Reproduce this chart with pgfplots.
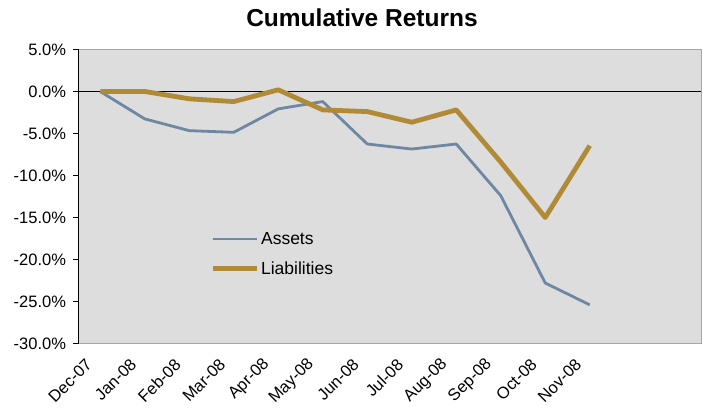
\documentclass[border=0pt]{standalone}
\usepackage{pgfplots}
\pgfplotsset{compat=1.18}
\usepackage{fontspec}
\setmainfont{Liberation Sans}
\definecolor{bgc}{HTML}{DDDDDD}
\definecolor{assetc}{HTML}{6E87A3}
\definecolor{liabc}{HTML}{B08A35}
\begin{document}
\begin{tikzpicture}[x=1pt,y=1pt]
\begin{axis}[
  at={(0,0)}, anchor=south west,
  scale only axis, width=623pt, height=294pt,
  xmin=-0.5, xmax=13.5, ymin=-30, ymax=5,
  axis background/.style={fill=bgc},
  axis line style={draw=gray!70, line width=0.8pt},
  xtick={0,...,11},
  xticklabels={Dec-07,Jan-08,Feb-08,Mar-08,Apr-08,May-08,Jun-08,Jul-08,Aug-08,Sep-08,Oct-08,Nov-08},
  x tick label style={xshift=-9pt, yshift=-11pt, rotate=45, anchor=east, font=\fontsize{16.5}{18}\selectfont},
  ytick={-30,-25,-20,-15,-10,-5,0,5},
  yticklabels={-30.0\%,-25.0\%,-20.0\%,-15.0\%,-10.0\%,-5.0\%,0.0\%,5.0\%},
  y tick label style={font=\fontsize{16.5}{18}\selectfont, xshift=-3.5pt},
  /pgf/number format/assume math mode=true,
  x tick style={draw=none},
  y tick style={black, line width=0.6pt},
  ytick pos=left, tick align=outside, major tick length=5pt,
  legend style={at={(0.212,0.386)}, anchor=north west, draw=none, fill=none,
    font=\fontsize{17.5}{19}\selectfont, row sep=12pt, inner sep=0pt},
  legend cell align=left,
  legend image code/.code={\draw[#1] (0pt,0pt) -- (44pt,0pt);},
  clip=false,
]
\draw[black, line width=0.6pt] (axis cs:-0.5,0) -- (axis cs:13.5,0);
\addplot[assetc, line width=2.8pt, line join=round] coordinates {
 (0,0) (1,-3.26) (2,-4.66) (3,-4.86) (4,-2.07) (5,-1.2) (6,-6.25) (7,-6.85) (8,-6.25) (9,-12.4) (10,-22.8) (11,-25.4)};
\addlegendentry{Assets}
\addplot[liabc, line width=4.8pt, line join=round] coordinates {
 (0,0) (1,0) (2,-0.87) (3,-1.2) (4,0.2) (5,-2.19) (6,-2.39) (7,-3.66) (8,-2.19) (9,-8.4) (10,-15.0) (11,-6.45)};
\addlegendentry{Liabilities}
\draw[black, line width=0.8pt] (rel axis cs:0,0) -- (rel axis cs:0,1);
\end{axis}
\node[font=\fontsize{24.5}{27}\selectfont\bfseries, anchor=base] at (284,316.5) {Cumulative Returns};
\pgfresetboundingbox
\path (-78,-65.5) rectangle (625,343.5);
\end{tikzpicture}
\end{document}
